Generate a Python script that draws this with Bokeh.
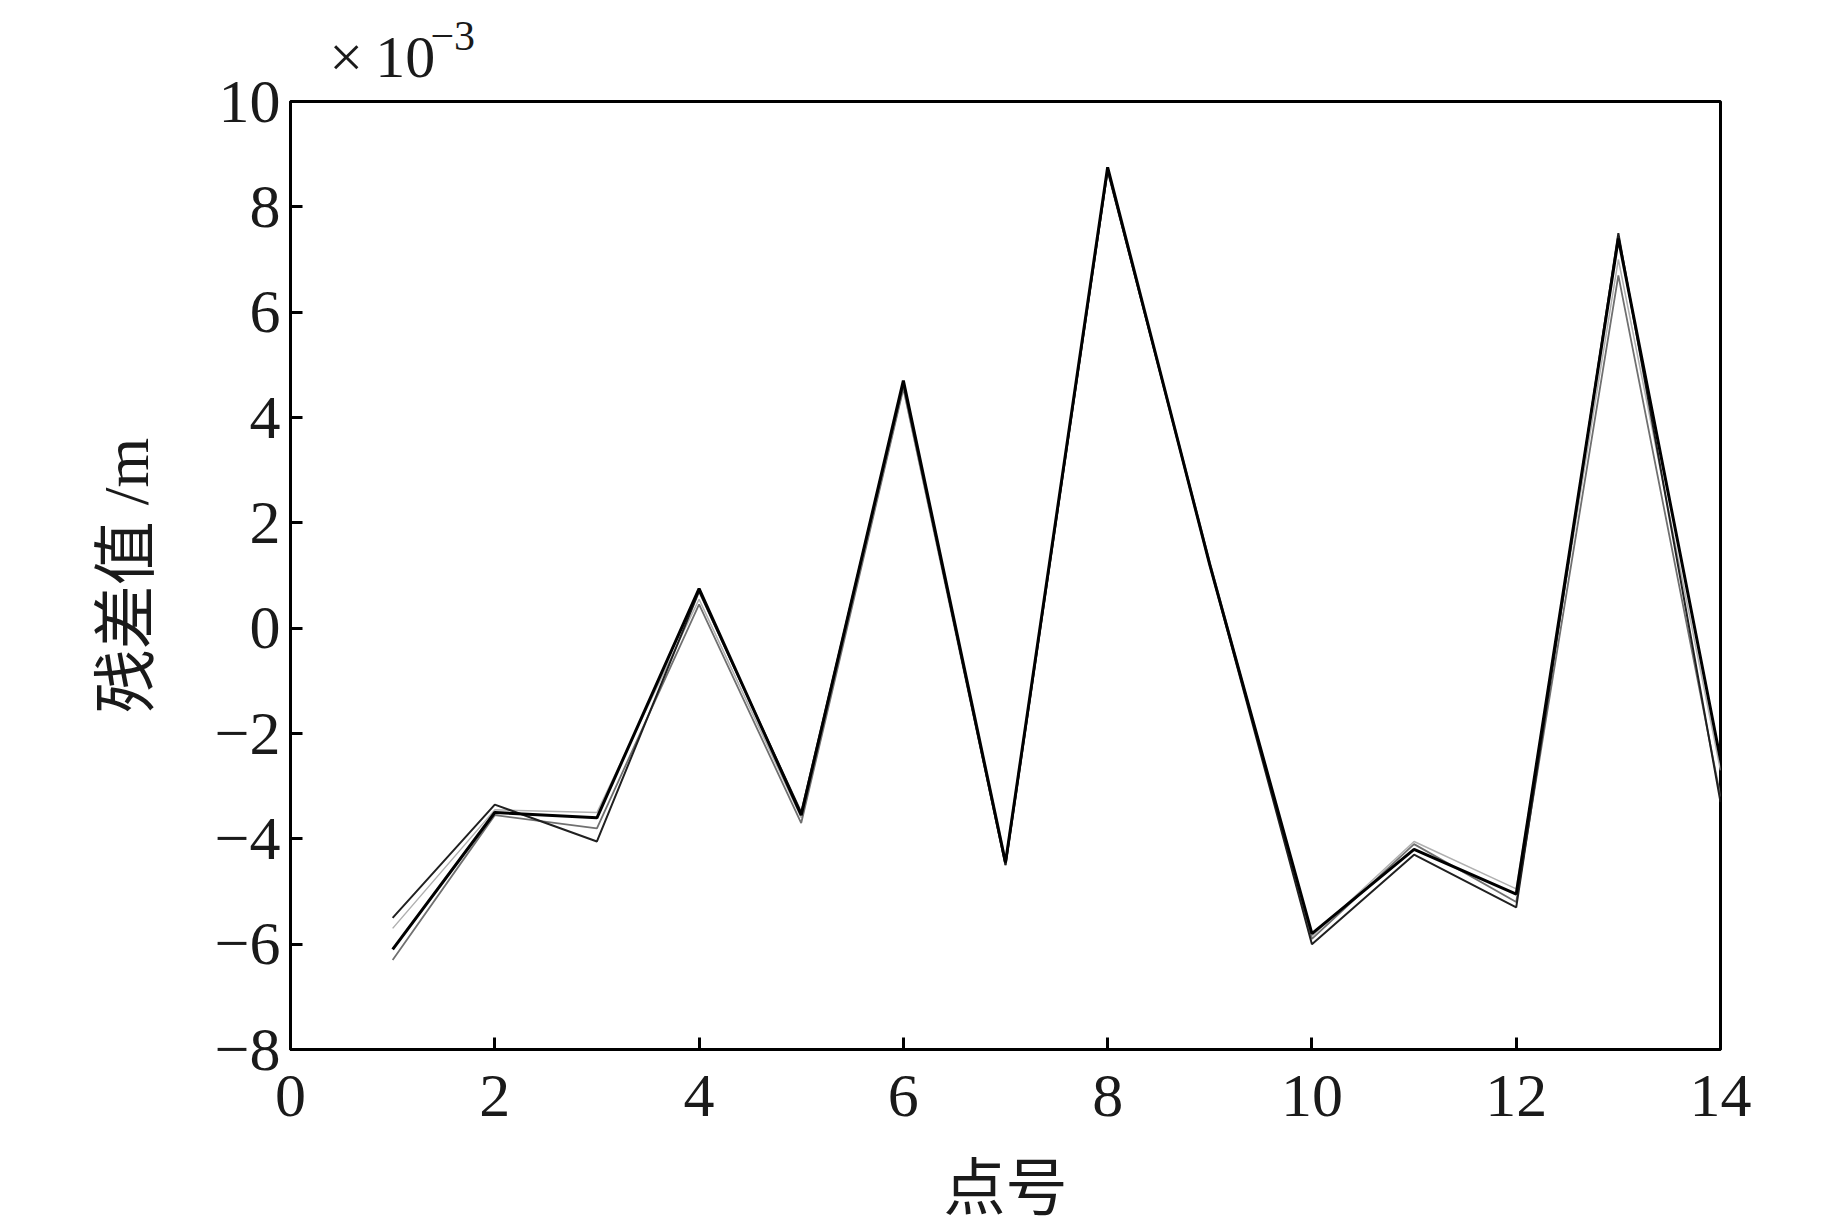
from bokeh.plotting import figure
from bokeh.models import Range1d, Label, FixedTicker
from bokeh.embed import file_html
from bokeh.resources import INLINE

# data (residuals, units of 1e-3 m)
point_no = [1, 2, 3, 4, 5, 6, 7, 8, 9, 10, 11, 12, 13, 14]
series_a = [-6.1, -3.5, -3.6, 0.75, -3.55, 4.7, -4.45, 8.75, 1.2, -5.8, -4.2, -5.05, 7.4, -2.5]
series_b = [-5.5, -3.35, -4.05, 0.7, -3.5, 4.65, -4.5, 8.7, 1.2, -6.0, -4.3, -5.3, 7.5, -3.3]
series_c = [-6.3, -3.55, -3.8, 0.45, -3.7, 4.55, -4.5, 8.7, 1.25, -5.9, -4.1, -5.2, 6.7, -3.2]
series_d = [-5.7, -3.45, -3.5, 0.55, -3.6, 4.6, -4.4, 8.65, 1.25, -5.85, -4.05, -4.95, 7.0, -2.7]

x_ticks = [0, 2, 4, 6, 8, 10, 12, 14]
x_tick_labels = ["0", "2", "4", "6", "8", "10", "12", "14"]
y_ticks = [-8, -6, -4, -2, 0, 2, 4, 6, 8, 10]
y_tick_labels = ["\u22128", "\u22126", "\u22124", "\u22122", "0", "2", "4", "6", "8", "10"]

x_title = "点号"
y_title = "残差值 /m"
scale_text = "\u00d7\u200910"
scale_exp = "\u22123"

serif = "'Liberation Serif'"
mixed = "'Liberation Serif', 'Noto Sans CJK SC'"

p = figure(width=1827, height=1225, output_backend="svg", toolbar_location=None,
           x_range=Range1d(0, 14), y_range=Range1d(-8, 10),
           min_border_left=290, min_border_right=107, min_border_top=101, min_border_bottom=165)
p.background_fill_color = "white"
p.border_fill_color = "white"
p.grid.visible = False
p.outline_line_color = "black"
p.outline_line_width = 3

for ax, ticks, labels in ((p.xaxis[0], x_ticks, x_tick_labels), (p.yaxis[0], y_ticks, y_tick_labels)):
    ax.ticker = FixedTicker(ticks=ticks)
    ax.major_label_overrides = {t: l for t, l in zip(ticks, labels)}
    ax.major_tick_in = 12
    ax.major_tick_out = 0
    ax.minor_tick_in = 0
    ax.minor_tick_out = 0
    ax.major_tick_line_width = 3
    ax.axis_line_width = 3
    ax.major_label_text_font = serif
    ax.major_label_text_font_size = "62px"
    ax.major_label_text_color = "#1a1a1a"
    ax.axis_label_text_font = mixed
    ax.axis_label_text_font_style = "normal"
    ax.axis_label_text_color = "#1a1a1a"

p.xaxis.axis_label = x_title
p.yaxis.axis_label = y_title
p.xaxis.axis_label_text_font_size = "62px"
p.yaxis.axis_label_text_font_size = "64px"
p.xaxis.major_label_standoff = 26
p.yaxis.major_label_standoff = 10
p.xaxis.axis_label_standoff = 36
p.yaxis.axis_label_standoff = 50

p.line(point_no, series_d, line_color="#b0b0b0", line_width=1.5)
p.line(point_no, series_c, line_color="#707070", line_width=1.8)
p.line(point_no, series_b, line_color="#202020", line_width=2)
p.line(point_no, series_a, line_color="#000000", line_width=3)

p.add_layout(Label(x=0.38, y=10.85, text=scale_text,
                   text_font=serif, text_font_size="60px",
                   text_baseline="alphabetic", text_color="#1a1a1a"), "above")
p.add_layout(Label(x=1.37, y=11.25, text=scale_exp,
                   text_font=serif, text_font_size="42px",
                   text_baseline="alphabetic", text_color="#1a1a1a"), "above")

open("out.html", "w").write(file_html(p, INLINE))
